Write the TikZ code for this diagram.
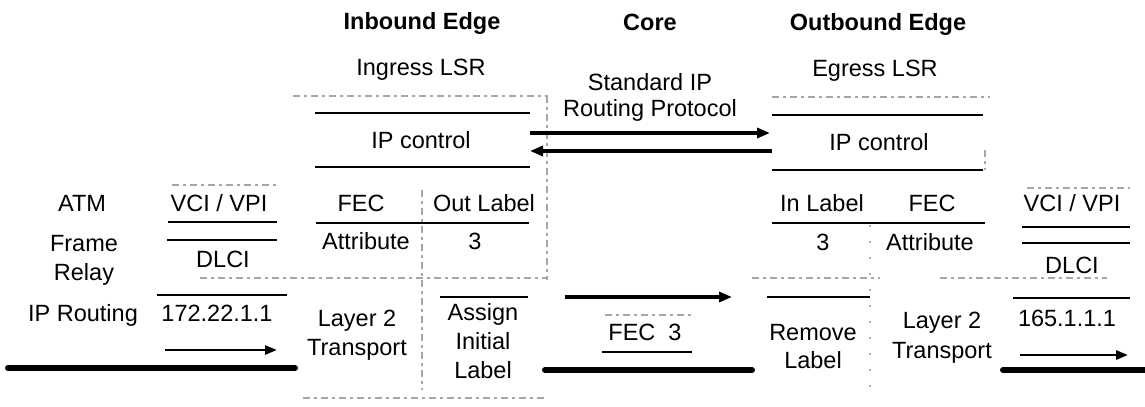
\documentclass[tikz,border=0pt]{standalone}
\usepackage{fontspec}
\setmainfont{Liberation Sans}
\usetikzlibrary{arrows.meta}
\begin{document}
\begin{tikzpicture}[x=1bp,y=-1bp,
  lbl/.style={font=\fontsize{23.5bp}{29bp}\selectfont, align=center, inner sep=0pt, anchor=base},
  hdr/.style={lbl, font=\fontsize{23.5bp}{29bp}\selectfont\bfseries},
  rule/.style={line width=1.8bp, black},
  faint/.style={line width=1.2bp, black!35, dash pattern=on 7bp off 4bp on 3bp off 4bp},
  sparse/.style={line width=1.2bp, black!30, dash pattern=on 2bp off 14bp},
  flow/.style={line width=3.2bp, -{Triangle[length=13bp,width=10bp]}},
  smallflow/.style={line width=2.6bp, -{Triangle[length=12bp,width=9bp]}},
  link/.style={line width=6bp, line cap=round}]
\useasboundingbox (0,0) rectangle (1145,406);

% ---- column headings ----
% (multi-line labels are placed by the baseline of their last line)
\node[hdr] (hin)  at (422,29.5) {Inbound Edge};
\node[hdr] (hcore) at (650,30.5) {Core};
\node[hdr] (hout) at (878,30.5) {Outbound Edge};

\node[lbl] (ingress) at (421,75.5) {Ingress LSR};
\node[lbl] (egress)  at (875,76.5) {Egress LSR};
\node[lbl, font=\fontsize{23.5bp}{26bp}\selectfont] (std) at (650,116.5) {Standard IP\\Routing Protocol};

% ---- IP control planes ----
\draw[faint] (293,96) -- (548,96);
\draw[faint] (772,97) -- (990,97);
\draw[rule] (315,113) -- (530,113);
\draw[rule] (315,167) -- (530,167);
\draw[rule] (772,115) -- (983,115);
\draw[rule] (772,170) -- (983,170);
\node[lbl] (ipcl) at (421,148.5) {IP control};
\node[lbl] (ipcr) at (879,150.5) {IP control};
\draw[faint] (547,96) -- (547,280);
\draw[faint] (985,150) -- (985,170);

\coordinate (upA) at (530,133);
\coordinate (upB) at (770,133);
\coordinate (dnA) at (772,151);
\coordinate (dnB) at (530,151);
\draw[flow] (upA) -- (upB);
\draw[flow] (dnA) -- (dnB);

% ---- left: incoming link types ----
\node[lbl] (atm)   at (82,211.5) {ATM};
\node[lbl] (frame) at (84,280.5) {Frame\\Relay};
\node[lbl] (iprt)  at (83,321.5) {IP Routing};

\draw[faint] (172,185) -- (277,185);
\node[lbl] (vcil) at (219,211.5) {VCI / VPI};
\draw[rule] (168,222) -- (277,222);
\draw[rule] (167,240) -- (277,240);
\node[lbl] (dlcil) at (223,267) {DLCI};
\draw[rule] (157,295) -- (287,295);
\node[lbl] (ipl) at (217,321.5) {172.22.1.1};

\coordinate (inA) at (165,350);
\coordinate (inB) at (277,350);
\draw[smallflow] (inA) -- (inB);
\coordinate (lkA) at (8,368);
\coordinate (lkB) at (295,368);
\draw[link] (lkA) -- (lkB);

% ---- ingress LSR table ----
\node[lbl] (fecl) at (361,211.5) {FEC};
\node[lbl] (outl) at (484,211.5) {Out Label};
\draw[rule] (316,223) -- (529,223);
\node[lbl] (attrl) at (366,249.5) {Attribute};
\node[lbl] (outv)  at (475,249.5) {3};
\draw[faint] (422,190) -- (422,390);
\draw[faint] (200,278) -- (547,278);

\node[lbl] (l2l) at (357,355.5) {Layer 2\\Transport};
\draw[rule] (440,297) -- (528,297);
\node[lbl] (assign) at (483,378.5) {Assign\\Initial\\Label};
\draw[faint] (303,398) -- (546,398);

% ---- core ----
\coordinate (cA) at (565,297);
\coordinate (cB) at (732,297);
\draw[flow] (cA) -- (cB);
\draw[faint] (605,315) -- (692,315);
\node[lbl] (fec3) at (645,340.5) {FEC\ \ 3};
\draw[rule] (602,352) -- (692,352);
\coordinate (ckA) at (545,370);
\coordinate (ckB) at (752,370);
\draw[link] (ckA) -- (ckB);

% ---- egress LSR table ----
\node[lbl] (inlr) at (822,211.5) {In Label};
\node[lbl] (fecr) at (932,211.5) {FEC};
\draw[rule] (772,223) -- (985,223);
\node[lbl] (inv)   at (823,250.5) {3};
\node[lbl] (attrr) at (930,250.5) {Attribute};
\draw[faint] (752,278) -- (880,278);
\draw[faint] (940,278) -- (1107,278);
\draw[sparse] (870,225) -- (870,400);

\draw[rule] (767,297) -- (870,297);
\node[lbl, font=\fontsize{23.5bp}{28bp}\selectfont] (remove) at (813,368.5) {Remove\\Label};
\node[lbl, font=\fontsize{23.5bp}{30bp}\selectfont] (l2r) at (942,358.5) {Layer 2\\Transport};

% ---- right: outgoing link ----
\draw[faint] (1027,188) -- (1130,188);
\node[lbl] (vcir) at (1072,211.5) {VCI / VPI};
\draw[rule] (1022,227) -- (1130,227);
\draw[rule] (1022,243) -- (1130,243);
\node[lbl] (dlcir) at (1072,273.5) {DLCI};
\draw[rule] (1013,298) -- (1130,298);
\node[lbl] (ipr) at (1067,326.5) {165.1.1.1};

\coordinate (outA) at (1020,355);
\coordinate (outB) at (1128,355);
\draw[smallflow] (outA) -- (outB);
\coordinate (rkA) at (1003,370);
\coordinate (rkB) at (1148,370);
\draw[link] (rkA) -- (rkB);
\end{tikzpicture}
\end{document}
